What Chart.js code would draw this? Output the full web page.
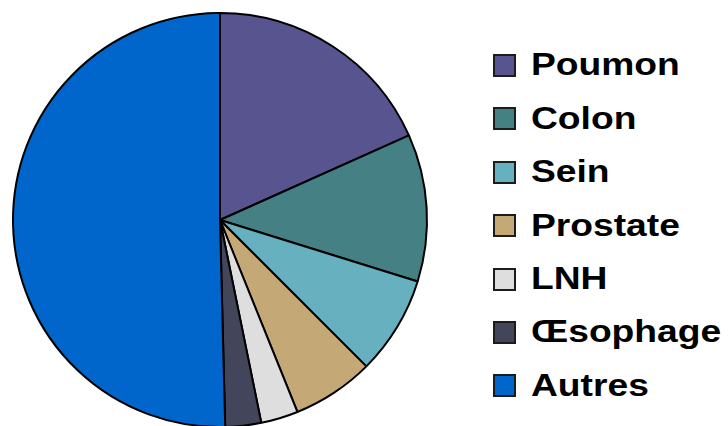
<!DOCTYPE html>
<html>
<head>
<meta charset="utf-8">
<script src="https://cdn.jsdelivr.net/npm/chart.js@4.4.1/dist/chart.umd.min.js"></script>
<style>
  html, body { margin: 0; padding: 0; background: #fff; overflow: hidden; }
  #wrap { position: relative; width: 728px; height: 426px; overflow: hidden; }
  #cancerChart { position: absolute; left: 0; top: 0; }
  #legend {
    position: absolute; left: 493px; top: 38.8px;
    margin: 0; padding: 0; list-style: none;
    font: bold 31px "Liberation Sans", Arial, sans-serif; color: #000;
  }
  #legend li { height: 53.4px; display: flex; align-items: center; white-space: nowrap; }
  #legend .box { width: 19px; height: 19px; border: 2px solid #1c1c1c; flex: none; }
  #legend .label { margin-left: 14.5px; display: inline-block; transform: scaleX(1.2); transform-origin: left center; }
</style>
</head>
<body>
<div id="wrap">
  <canvas id="cancerChart" width="440" height="440"></canvas>
  <ul id="legend"></ul>
</div>
<script>
const labels = ['Poumon', 'Colon', 'Sein', 'Prostate', 'LNH', 'Œsophage', 'Autres'];
const shares = [18.3, 11.5, 7.7, 6.4, 2.9, 2.8, 50.4];
const colors = ['#575490', '#458184', '#66b0c0', '#c4a976', '#dedede', '#43465a', '#0066cc'];

// builds the legend list next to the canvas from chart's own legend items
const htmlLegend = {
  id: 'htmlLegend',
  afterUpdate(chart) {
    const list = document.getElementById('legend');
    list.innerHTML = '';
    const items = chart.options.plugins.legend.labels.generateLabels(chart);
    items.forEach(item => {
      const li = document.createElement('li');
      const box = document.createElement('span');
      box.className = 'box';
      box.style.background = item.fillStyle;
      const text = document.createElement('span');
      text.className = 'label';
      text.textContent = item.text;
      li.appendChild(box);
      li.appendChild(text);
      list.appendChild(li);
    });
  }
};

new Chart(document.getElementById('cancerChart'), {
  type: 'pie',
  data: {
    labels: labels,
    datasets: [{
      data: shares,
      backgroundColor: colors,
      borderColor: '#000',
      borderWidth: 2,
      radius: 207,
      clip: false
    }]
  },
  options: {
    responsive: false,
    animation: false,
    layout: { padding: 0 },
    plugins: {
      tooltip: { enabled: false },
      legend: { display: false }
    }
  },
  plugins: [htmlLegend]
});
</script>
</body>
</html>
